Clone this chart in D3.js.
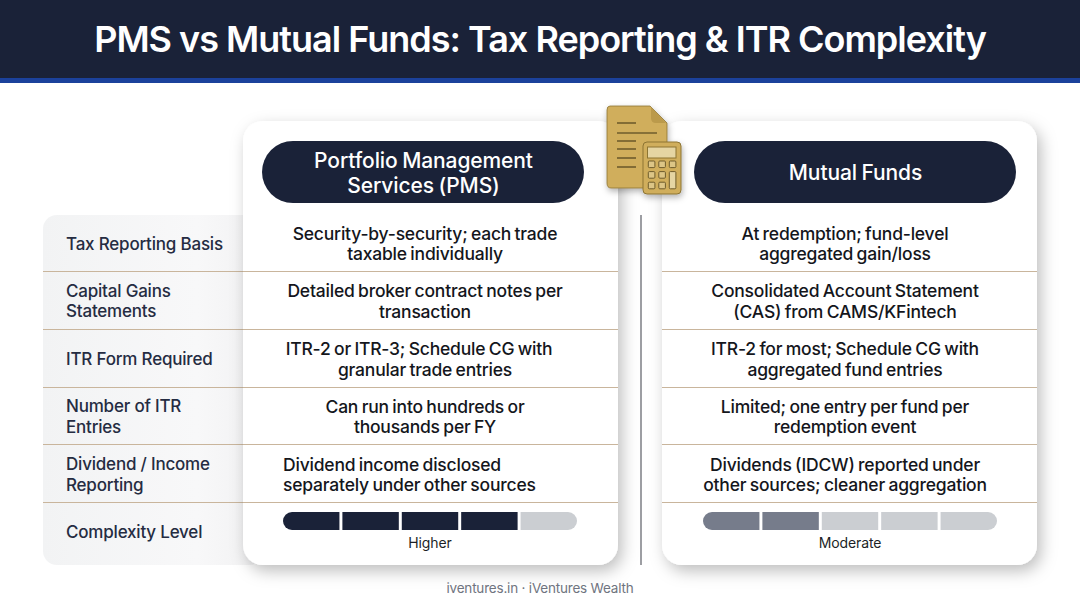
<!DOCTYPE html>
<html>
<head>
<meta charset="utf-8">
<script src="https://cdn.jsdelivr.net/npm/d3@7"></script>
<style>
html, body { margin: 0; padding: 0; background: #fff; }
svg { display: block; }
text { font-family: Inter, "Noto Sans", sans-serif; }
</style>
</head>
<body>
<div id="chart"></div>
<script>
var title = 'PMS vs Mutual Funds: Tax Reporting & ITR Complexity';
var footer = 'iventures.in · iVentures Wealth';
var pmsHeader = ['Portfolio Management', 'Services (PMS)'];
var mfHeader = ['Mutual Funds'];

var rowLabels = [
  ['Tax Reporting Basis'],
  ['Capital Gains', 'Statements'],
  ['ITR Form Required'],
  ['Number of ITR', 'Entries'],
  ['Dividend / Income', 'Reporting'],
  ['Complexity Level']
];
var pmsCells = [
  ['Security-by-security; each trade', 'taxable individually'],
  ['Detailed broker contract notes per', 'transaction'],
  ['ITR-2 or ITR-3; Schedule CG with', 'granular trade entries'],
  ['Can run into hundreds or', 'thousands per FY'],
  ['Dividend income disclosed', 'separately under other sources']
];
var mfCells = [
  ['At redemption; fund-level', 'aggregated gain/loss'],
  ['Consolidated Account Statement', '(CAS) from CAMS/KFintech'],
  ['ITR-2 for most; Schedule CG with', 'aggregated fund entries'],
  ['Limited; one entry per fund per', 'redemption event'],
  ['Dividends (IDCW) reported under', 'other sources; cleaner aggregation']
];
var levels = [1, 2, 3, 4, 5];
var pmsLevel = 4, pmsLevelLabel = 'Higher';
var mfLevel = 2, mfLevelLabel = 'Moderate';

var width = 1080, height = 603;
var navy = '#1a2238', rule = '#c9b59c';

var svg = d3.select('#chart').append('svg')
    .attr('width', width)
    .attr('height', height);

var defs = svg.append('defs');

var shadow = defs.append('filter').attr('id', 'cardShadow')
    .attr('x', '-15%').attr('y', '-15%').attr('width', '130%').attr('height', '130%');
shadow.append('feDropShadow')
    .attr('dx', 4).attr('dy', 6).attr('stdDeviation', 8)
    .attr('flood-color', '#000').attr('flood-opacity', 0.26);

var iconShadow = defs.append('filter').attr('id', 'iconShadow')
    .attr('x', '-30%').attr('y', '-30%').attr('width', '160%').attr('height', '160%');
iconShadow.append('feDropShadow')
    .attr('dx', 1).attr('dy', 3).attr('stdDeviation', 3)
    .attr('flood-color', '#000').attr('flood-opacity', 0.3);

var panelFill = defs.append('linearGradient').attr('id', 'panelFill')
    .attr('x1', 0).attr('x2', 1).attr('y1', 0).attr('y2', 0);
panelFill.append('stop').attr('offset', '0%').attr('stop-color', '#f2f3f4');
panelFill.append('stop').attr('offset', '70%').attr('stop-color', '#f8f8f9');
panelFill.append('stop').attr('offset', '100%').attr('stop-color', '#f1f1f2');

// header band
svg.append('rect').attr('width', width).attr('height', 79).attr('fill', navy);
svg.append('rect').attr('y', 78).attr('width', width).attr('height', 5).attr('fill', '#1b419b');
svg.append('text')
    .attr('x', 540).attr('y', 52)
    .attr('text-anchor', 'middle')
    .attr('font-size', 36).attr('font-weight', 600)
    .attr('letter-spacing', -1)
    .attr('fill', '#fff')
    .text(title);

// row positions
var rowY = d3.scaleOrdinal()
    .domain(d3.range(6))
    .range([243.5, 301, 359, 416.5, 474.5, 532]);
var ruleY = [271.5, 329.5, 387.5, 444.5, 502.5];

function multiline(g, lines, x, cy, anchor, size, weight, color, lh) {
  var t = g.append('text')
      .attr('text-anchor', anchor)
      .attr('font-size', size)
      .attr('font-weight', weight)
      .attr('fill', color);
  t.selectAll('tspan').data(lines).enter().append('tspan')
      .attr('x', x)
      .attr('y', function (d, i) {
        return cy + size * 0.36 + (i - (lines.length - 1) / 2) * lh;
      })
      .text(function (d) { return d; });
  return t;
}

// left label panel
var panel = svg.append('g');
panel.append('rect')
    .attr('x', 43).attr('y', 215).attr('width', 220).attr('height', 350)
    .attr('rx', 14)
    .attr('fill', 'url(#panelFill)');
panel.selectAll('line').data(ruleY).enter().append('line')
    .attr('x1', 43).attr('x2', 243)
    .attr('y1', function (d) { return d; })
    .attr('y2', function (d) { return d; })
    .attr('stroke', rule).attr('stroke-width', 1);
rowLabels.forEach(function (lines, i) {
  multiline(panel, lines, 66, rowY(i), 'start', 17, 500, '#252c42', 20.5)
      .attr('letter-spacing', -0.2);
});

// divider
svg.append('line')
    .attr('x1', 641).attr('x2', 641).attr('y1', 215).attr('y2', 565)
    .attr('stroke', '#85868c').attr('stroke-width', 1.6);

function column(x, cells, head, level, levelLabel, fillColor, id) {
  var cardW = 375;
  var isPms = id === 'pms';
  var g = svg.append('g');
  g.append('rect')
      .attr('x', x).attr('y', 121).attr('width', cardW).attr('height', 444)
      .attr('rx', 20)
      .attr('fill', '#fff')
      .attr('filter', 'url(#cardShadow)');

  g.append('rect')
      .attr('x', x + (isPms ? 19 : 32)).attr('y', 141)
      .attr('width', 322).attr('height', 62)
      .attr('rx', 31)
      .attr('fill', navy);
  multiline(g, head, x + (isPms ? 180.5 : 193.5), 172.5, 'middle', 21, 500, '#fff', 25)
      .attr('letter-spacing', -0.1)
      .attr('word-spacing', -1);

  g.selectAll('line.rule').data(ruleY).enter().append('line')
      .attr('class', 'rule')
      .attr('x1', x).attr('x2', x + cardW)
      .attr('y1', function (d) { return d; })
      .attr('y2', function (d) { return d; })
      .attr('stroke', rule).attr('stroke-width', 1);

  cells.forEach(function (lines, i) {
    // the PMS dividend cell is set flush left in the original
    var flush = isPms && i === 4;
    var t = multiline(g, lines, flush ? 283 : x + (isPms ? 182 : 183), rowY(i), flush ? 'start' : 'middle', 17.5, 500, '#14161c', 20.5)
        .attr('letter-spacing', -0.2)
        .attr('word-spacing', -1);
    // first ITR line sits left of centre in the original
    if (isPms && i === 2) t.select('tspan').attr('dx', -6);
  });

  // complexity gauge
  var barX = x + (isPms ? 40 : 41);
  var seg = d3.scaleBand().domain(levels).range([barX, barX + 294]).paddingInner(0.05).paddingOuter(0);
  defs.append('clipPath').attr('id', 'clip-' + id)
      .append('rect')
      .attr('x', barX).attr('y', 512).attr('width', 294).attr('height', 18)
      .attr('rx', 9);
  g.append('g').attr('clip-path', 'url(#clip-' + id + ')')
      .selectAll('rect').data(levels).enter().append('rect')
      .attr('x', function (d) { return seg(d); })
      .attr('y', 512)
      .attr('width', seg.bandwidth())
      .attr('height', 18)
      .attr('fill', function (d) { return d <= level ? fillColor : '#cbced2'; });
  g.append('text')
      .attr('x', barX + 147).attr('y', 547.5)
      .attr('text-anchor', 'middle')
      .attr('font-size', 14).attr('fill', '#1c1f26')
      .attr('letter-spacing', -0.1)
      .text(levelLabel);
}

column(243, pmsCells, pmsHeader, pmsLevel, pmsLevelLabel, '#1a2238', 'pms');
column(662, mfCells, mfHeader, mfLevel, mfLevelLabel, '#767c8b', 'mf');

// document + calculator icon, drawn in its own 110x120 box
var gold = '#d0ae5c', goldDark = '#8d7433';
var icon = svg.append('g').attr('transform', 'translate(590,90)').attr('filter', 'url(#iconShadow)');
icon.append('path')
    .attr('d', 'M20 16 H60 L77 33 V93 Q77 98 72 98 H21 Q17 98 17 93 V20 Q17 16 20 16 Z')
    .attr('fill', gold).attr('stroke', goldDark).attr('stroke-width', 0.8);
icon.append('path')
    .attr('d', 'M61 17 V28 Q61 33 66 33 H76 Z')
    .attr('fill', '#bb9a4c');
[[27, 46, 33], [27, 67, 43], [27, 46, 51], [27, 46, 59], [27, 46, 68], [27, 46, 77]].forEach(function (d) {
  icon.append('line')
      .attr('x1', d[0]).attr('x2', d[1]).attr('y1', d[2]).attr('y2', d[2])
      .attr('stroke', '#6f5c2b').attr('stroke-width', 1.6);
});
icon.append('rect')
    .attr('x', 53).attr('y', 52).attr('width', 38).attr('height', 52).attr('rx', 4)
    .attr('fill', gold).attr('stroke', goldDark).attr('stroke-width', 1);
icon.append('rect')
    .attr('x', 57.5).attr('y', 57).attr('width', 28.5).attr('height', 11)
    .attr('fill', '#e5d5a3').attr('stroke', goldDark).attr('stroke-width', 1);
[0, 1, 2].forEach(function (r) {
  [0, 1, 2].forEach(function (c) {
    if (c === 2 && r > 0) return;
    icon.append('rect')
        .attr('x', 58.3 + c * 10.5).attr('y', 71 + r * 10.6).attr('width', 6.6).attr('height', 6.6).attr('rx', 1)
        .attr('fill', '#dcc586').attr('stroke', '#6f5c2b').attr('stroke-width', 1);
  });
});
icon.append('rect')
    .attr('x', 79.3).attr('y', 81.6).attr('width', 6.6).attr('height', 17.2).attr('rx', 1)
    .attr('fill', '#e5d5a3').attr('stroke', '#6f5c2b').attr('stroke-width', 1);

// footer
svg.append('text')
    .attr('x', 540).attr('y', 593)
    .attr('text-anchor', 'middle')
    .attr('font-size', 13.5).attr('fill', '#6f7480')
    .attr('letter-spacing', -0.2)
    .text(footer);
</script>
</body>
</html>
